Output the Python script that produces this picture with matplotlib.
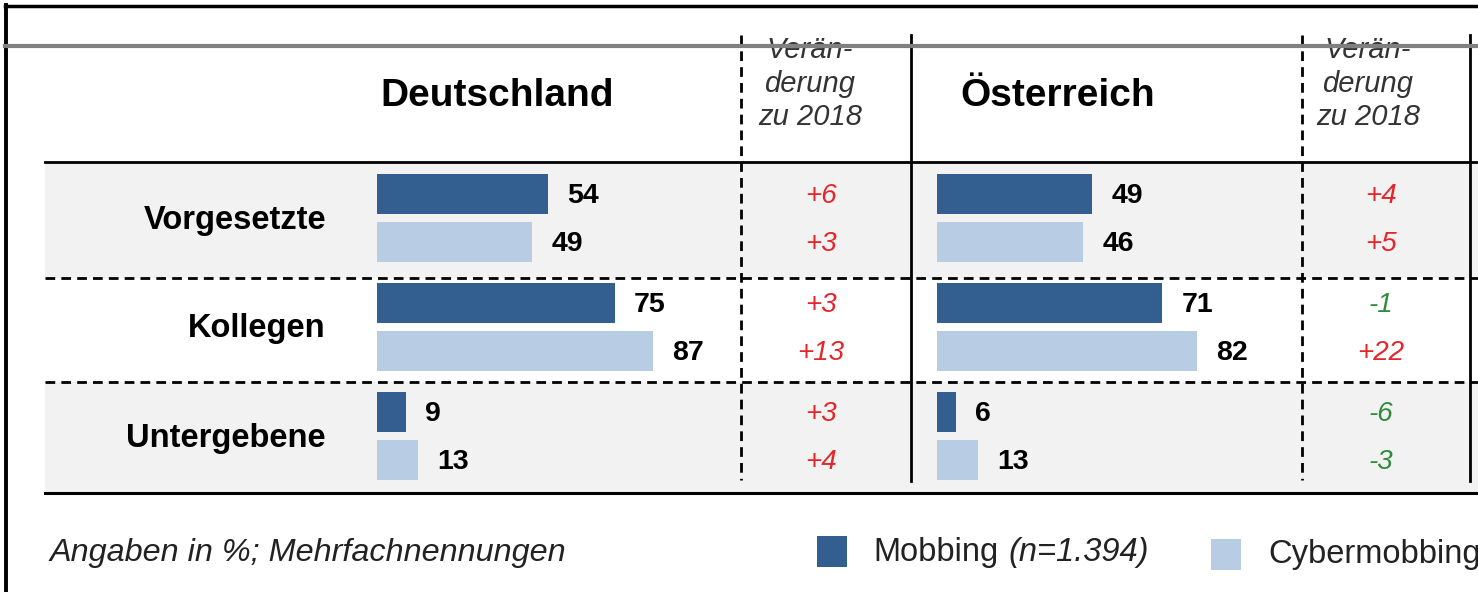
import numpy as np
import matplotlib
matplotlib.use("Agg")
import matplotlib.pyplot as plt
from matplotlib.patches import Rectangle

plt.rcParams['font.family'] = ['Liberation Sans', 'DejaVu Sans']

# data
categories = ["Vorgesetzte", "Kollegen", "Untergebene"]
countries = ["Deutschland", "Österreich"]
de_mobbing = [54, 75, 9]
de_cyber = [49, 87, 13]
at_mobbing = [49, 71, 6]
at_cyber = [46, 82, 13]
de_chg_mobbing = [6, 3, 3]
de_chg_cyber = [3, 13, 4]
at_chg_mobbing = [4, -1, -6]
at_chg_cyber = [5, 22, -3]
note = "Angaben in %; Mehrfachnennungen"
legend_labels = ["Mobbing", "Cybermobbing"]
n_label = "(n=1.394)"

DARK = "#335f90"
LIGHT = "#b8cce4"
BAND = "#f2f2f2"
RED = "#e3262b"
GREEN = "#2f8a3a"

W, H = 1478, 592
fig = plt.figure(figsize=(W / 100, H / 100), dpi=100)
fig.patch.set_facecolor("white")

# background axes in pixel coordinates
ax = fig.add_axes([0, 0, 1, 1])
ax.set_xlim(0, W)
ax.set_ylim(H, 0)
ax.axis("off")

row_top = [163, 278, 382]
row_bot = [278, 382, 493]
y_mob = [194, 303, 412]
y_cyb = [242, 351, 460]

# row bands (1st and 3rd grey)
for i in range(3):
    if i != 1:
        ax.add_patch(Rectangle((45, row_top[i]), W - 45, row_bot[i] - row_top[i],
                               facecolor=BAND, edgecolor="none", zorder=0))

# frame
ax.plot([6, 6], [5, H], color="black", lw=2.8, zorder=5)
ax.plot([5, W], [6, 6], color="black", lw=2.5, zorder=5)
ax.plot([5, W], [46, 46], color="#808080", lw=3, zorder=6)

# table lines
ax.plot([45, W], [162, 162], color="black", lw=2, zorder=3)
ax.plot([45, W], [493, 493], color="black", lw=2.2, zorder=3)
for yy in [278, 382]:
    ax.plot([45, W], [yy, yy], color="black", lw=2, dashes=(3.5, 2.2), zorder=3)
for xx in [741, 1302]:
    ax.plot([xx, xx], [35, 480], color="black", lw=2, dashes=(3.5, 2.2), zorder=3)
for xx in [911, 1470]:
    ax.plot([xx, xx], [35, 481], color="black", lw=2, zorder=3)

# headers
ax.text(497, 96, countries[0], fontsize=28, fontweight="bold", ha="center", va="center")
ax.text(1058, 96, countries[1], fontsize=28, fontweight="bold", ha="center", va="center")
for cx in [810, 1368]:
    for line, yy in zip(["Verän-", "derung", "zu 2018"], [50, 84, 117]):
        ax.text(cx, yy, line, fontsize=21, style="italic", color="#333333",
                ha="center", va="center", zorder=4)

# row labels
for i, cat in enumerate(categories):
    ax.text(326, (y_mob[i] + y_cyb[i]) / 2 + 2, cat, fontsize=23.5, fontweight="bold",
            ha="right", va="center")

# change columns
def chg_text(cx, vals, ys):
    for v, yy in zip(vals, ys):
        ax.text(cx, yy + 2, f"{v:+d}", fontsize=20, style="italic",
                color=RED if v > 0 else GREEN, ha="center", va="center")

chg_text(821, de_chg_mobbing, y_mob)
chg_text(821, de_chg_cyber, y_cyb)
chg_text(1381, at_chg_mobbing, y_mob)
chg_text(1381, at_chg_cyber, y_cyb)

# bars: one axes per country, 100 % = 317 px
px_per_unit = 3.17
for x0, mob, cyb in [(377, de_mobbing, de_cyber), (937, at_mobbing, at_cyber)]:
    bax = fig.add_axes([x0 / W, 0, 100 * px_per_unit / W, 1])
    bax.set_xlim(0, 100)
    bax.set_ylim(H, 0)
    bax.axis("off")
    bax.patch.set_alpha(0)
    bax.barh(y_mob, mob, height=40, color=DARK, zorder=2)
    bax.barh(y_cyb, cyb, height=40, color=LIGHT, zorder=2)
    for vals, ys in [(mob, y_mob), (cyb, y_cyb)]:
        for v, yy in zip(vals, ys):
            bax.annotate(str(v), (v, yy + 2), xytext=(14, 0), textcoords="offset points",
                         fontsize=20.5, fontweight="bold", ha="left", va="center",
                         annotation_clip=False)

# footer
ax.text(50, 553, note, fontsize=23.3, style="italic", color="#222222", ha="left", va="center")
ax.add_patch(Rectangle((817, 536), 30, 31, facecolor=DARK, edgecolor="none"))
ax.text(873, 553, legend_labels[0], fontsize=23.5, color="#222222", ha="left", va="center")
ax.text(1008, 553, n_label, fontsize=23.5, style="italic", color="#222222", ha="left", va="center")
ax.add_patch(Rectangle((1211, 539), 30, 31, facecolor=LIGHT, edgecolor="none"))
ax.text(1268, 555, legend_labels[1], fontsize=23.5, color="#222222", ha="left", va="center")

fig.savefig("out.png", dpi=100)
